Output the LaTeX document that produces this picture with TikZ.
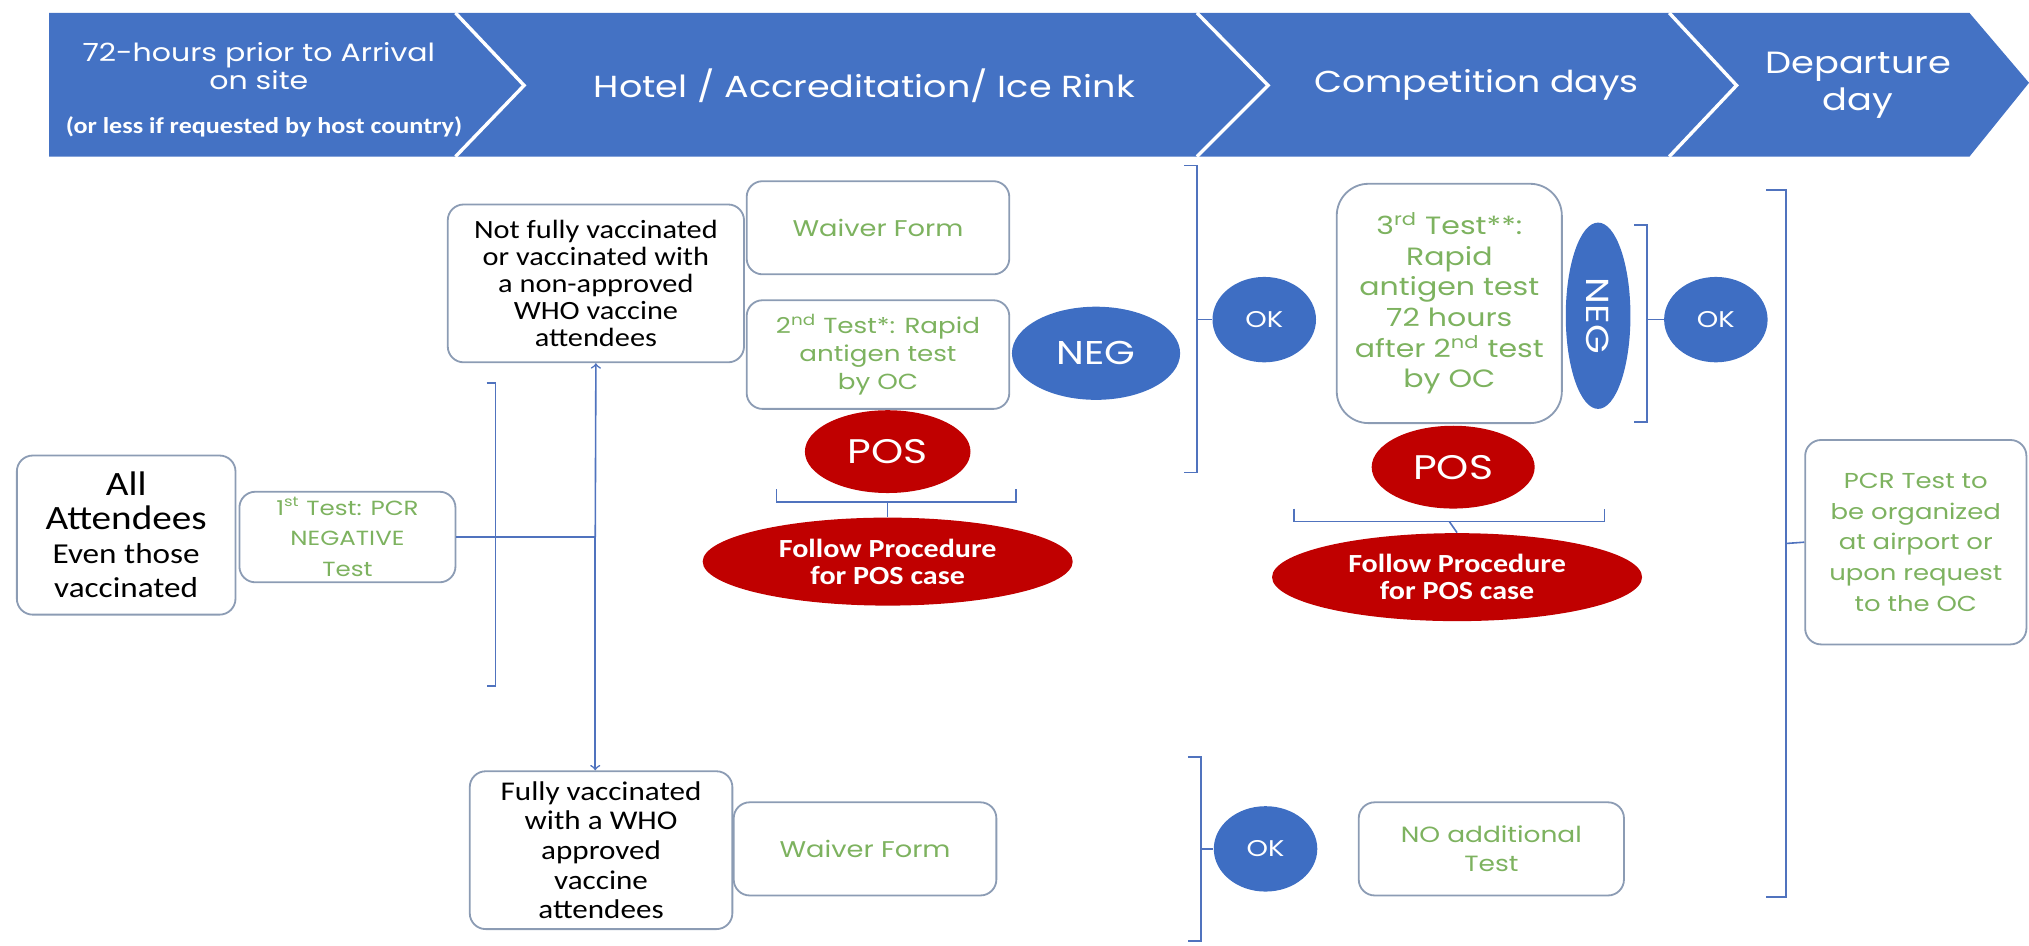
\documentclass[tikz,border=0pt]{standalone}
\usepackage{fontspec}
\setmainfont[FakeStretch=1.2]{Poppins}
\newfontfamily\narrowfont[FakeStretch=1.15]{Carlito}
\usetikzlibrary{shapes.geometric}
\definecolor{bannerblue}{RGB}{68,114,196}
\definecolor{ovalblue}{RGB}{62,110,195}
\definecolor{posred}{RGB}{192,0,0}
\definecolor{boxgray}{RGB}{140,156,180}
\definecolor{textgreen}{RGB}{125,178,95}
\definecolor{linkblue}{RGB}{80,115,190}

\begin{document}
\begin{tikzpicture}[x=0.02cm,y=-0.02cm,
  stepbox/.style={draw=boxgray,line width=0.8pt,rounded corners=7pt,align=center,inner sep=0pt},
  greentext/.style={text=textgreen},
  blacktext/.style={text=black},
  blueoval/.style={ellipse,fill=ovalblue,text=white,inner sep=0pt},
  redoval/.style={ellipse,fill=posred,text=white,inner sep=0pt},
  link/.style={draw=linkblue,line width=0.7pt},
  bannertext/.style={text=white,align=center}]

\useasboundingbox (0,0) rectangle (1568,731);

% banner
\fill[bannerblue] (38,10) -- (1522,10) -- (1568,64) -- (1522,121) -- (38,121) -- cycle;
\draw[white,line width=1.5pt] (352,10) -- (405,66) -- (352,121);
\draw[white,line width=1.5pt] (925,10) -- (980,66) -- (925,121);
\draw[white,line width=1.5pt] (1290,10) -- (1342,66) -- (1290,121);

\node[bannertext,font=\fontsize{11}{12.5}\selectfont] (arrive) at (200,51) {72-hours prior to Arrival\\on site};
\node[bannertext,font=\narrowfont\bfseries\fontsize{10}{10}\selectfont] (arrivenote) at (204,98) {(or less if requested by host country)};
\node[bannertext,font=\fontsize{13.4}{16}\selectfont] (hotel) at (668,66) {Hotel / Accreditation/ Ice Rink};
\node[bannertext,font=\fontsize{13.3}{16}\selectfont] (comp) at (1141,66) {Competition days};
\node[bannertext,font=\fontsize{13.5}{16}\selectfont] (depart) at (1436,66) {Departure\\day};

% first column
\node[stepbox,blacktext,font=\narrowfont\fontsize{12.7}{15}\selectfont,minimum width=3.38cm,minimum height=2.46cm] (all) at (97.5,413.5)
  {{\fontsize{15}{15}\selectfont All}\\{\fontsize{15}{15.5}\selectfont Attendees}\\Even those\\vaccinated};
\node[stepbox,greentext,font=\fontsize{9}{13.5}\selectfont,minimum width=3.34cm,minimum height=1.4cm] (test1) at (268.5,415)
  {1\textsuperscript{st} Test: PCR\\NEGATIVE\\Test};

% not fully vaccinated row
\node[stepbox,blacktext,font=\narrowfont\fontsize{11.6}{11.9}\selectfont,minimum width=4.58cm,minimum height=2.44cm] (notfull) at (460.5,219)
  {Not fully vaccinated\\or vaccinated with\\a non-approved\\WHO vaccine\\attendees};
\node[stepbox,greentext,font=\fontsize{10}{13}\selectfont,minimum width=4.06cm,minimum height=1.44cm] (waiver1) at (678.5,176) {Waiver Form};
\node[stepbox,greentext,font=\fontsize{9.6}{12.3}\selectfont,minimum width=4.06cm,minimum height=1.68cm] (test2) at (678.5,274)
  {2\textsuperscript{nd} Test*: Rapid\\antigen test\\by OC};
\node[blueoval,font=\fontsize{14.5}{16}\selectfont,minimum width=2.6cm,minimum height=1.44cm] (neg1) at (847,273) {NEG};
\node[redoval,font=\fontsize{15}{16}\selectfont,minimum width=2.56cm,minimum height=1.28cm] (pos1) at (686,349) {POS};
\node[redoval,align=center,font=\narrowfont\bfseries\fontsize{11.5}{12}\selectfont,minimum width=5.72cm,minimum height=1.36cm] (follow1) at (686,434)
  {Follow Procedure\\for POS case};
\node[blueoval,font=\fontsize{10}{11}\selectfont,minimum width=1.6cm,minimum height=1.32cm] (ok1) at (977,247) {OK};

\node[stepbox,greentext,font=\fontsize{11}{13.5}\selectfont,rounded corners=14pt,minimum width=3.48cm,minimum height=3.7cm] (test3) at (1120,234.5)
  {3\textsuperscript{rd} Test**:\\Rapid\\antigen test\\72 hours\\after 2\textsuperscript{nd} test\\by OC};
\node[blueoval,rotate=-90,font=\fontsize{14}{15}\selectfont,minimum width=2.88cm,minimum height=1.0cm] (neg2) at (1235,244) {NEG};
\node[blueoval,font=\fontsize{10}{11}\selectfont,minimum width=1.6cm,minimum height=1.32cm] (ok2) at (1326,247) {OK};
\node[redoval,font=\fontsize{15}{16}\selectfont,minimum width=2.52cm,minimum height=1.28cm] (pos2) at (1123,361) {POS};
\node[redoval,align=center,font=\narrowfont\bfseries\fontsize{11.5}{12}\selectfont,minimum width=5.72cm,minimum height=1.36cm] (follow2) at (1126,446)
  {Follow Procedure\\for POS case};

\node[stepbox,greentext,font=\fontsize{9.5}{13.5}\selectfont,minimum width=3.42cm,minimum height=3.16cm] (pcr) at (1480.5,419)
  {PCR Test to\\be organized\\at airport or\\upon request\\to the OC};

% fully vaccinated row
\node[stepbox,blacktext,font=\narrowfont\fontsize{11.9}{13}\selectfont,minimum width=4.06cm,minimum height=2.44cm] (fullv) at (464.5,657)
  {Fully vaccinated\\with a WHO\\approved\\vaccine\\attendees};
\node[stepbox,greentext,font=\fontsize{10}{13}\selectfont,minimum width=4.06cm,minimum height=1.44cm] (waiver2) at (668.5,656) {Waiver Form};
\node[blueoval,font=\fontsize{10}{11}\selectfont,minimum width=1.6cm,minimum height=1.32cm] (ok3) at (978,656) {OK};
\node[stepbox,greentext,font=\fontsize{9.7}{13}\selectfont,minimum width=4.1cm,minimum height=1.44cm] (noadd) at (1152.5,656)
  {NO additional\\Test};

% connectors
\coordinate (split) at (460,415);
\draw[link] (test1.east) -- (split);
\draw[link,->] (split) -- (notfull.south);
\draw[link,->] (split) -- (split |- fullv.north);
\draw[link] (376,296) -- (383,296) -- (383,530) -- (376,530);

\draw[link] (600,378) -- (600,388) -- (785,388) -- (785,378);
\draw[link] (686,388) -- (follow1.north);

\draw[link] (915,128) -- (925,128) -- (925,365) -- (915,365);
\draw[link] (925,247) -- (ok1.west);

\draw[link] (1263,174) -- (1273,174) -- (1273,326) -- (1263,326);
\draw[link] (1273,247) -- (ok2.west);

\draw[link] (1000,393) -- (1000,403) -- (1240,403) -- (1240,393);
\draw[link] (1120,403) -- (follow2.north);

\draw[link] (1365,147) -- (1380,147) -- (1380,693) -- (1365,693);
\draw[link] (1380,420) -- (pcr.west);

\draw[link] (918,585) -- (928,585) -- (928,727) -- (918,727);
\draw[link] (928,656) -- (ok3.west);
\end{tikzpicture}
\end{document}
